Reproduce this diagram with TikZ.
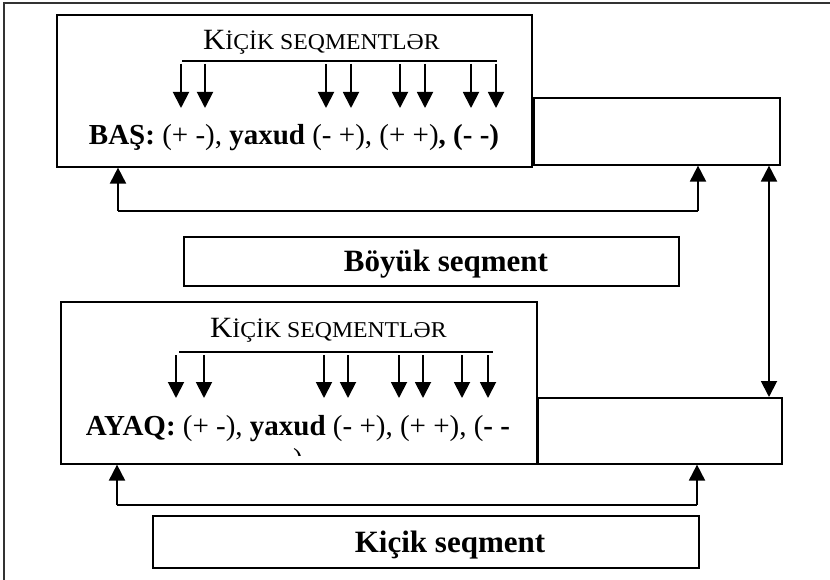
\documentclass[tikz,border=0pt]{standalone}
\usepackage{fontspec}
\setmainfont{Liberation Serif}
\newfontfamily\headingfont{Liberation Serif}[FakeStretch=1.05]
\usetikzlibrary{arrows.meta}

\newcommand\segtitle{{\headingfont\fontsize{29.4}{32}\selectfont K\fontsize{22.6}{25}\selectfont İÇİK SEQMENTLƏR}}

\begin{document}
\begin{tikzpicture}[x=1pt,y=-1pt,
  box/.style={draw, line width=1.6pt, anchor=north west, inner sep=0pt},
  txt/.style={inner sep=0pt, font=\fontsize{29}{32}\selectfont},
  ttl/.style={inner sep=0pt, anchor=base west},
  lbl/.style={inner sep=0pt, anchor=base, font=\bfseries\fontsize{31}{34}\selectfont},
  rule/.style={line width=1.6pt},
  tip/.tip={Triangle[width=16pt,length=16pt]},
  arr/.style={line width=1.9pt, -tip},
  darr/.style={line width=1.9pt, tip-tip},
  frame/.style={line width=1.3pt, draw=black!80}]

\useasboundingbox (0,0) rectangle (830,580);
\clip (0,0) rectangle (830,580);

% outer frame (runs past the right and lower edges)
\draw[frame] (4,600) -- (4,3) -- (840,3);

% ---------- upper group ----------
\node[box, minimum width=475pt, minimum height=152pt] (head) at (56,14) {};
\node[box, minimum width=246pt, minimum height=67pt] (headR) at (533,97) {};

\node[ttl] (headT) at (203,50) {\segtitle};
\coordinate (hl) at (182,61);
\coordinate (hr) at (497,61);
\draw[rule] (hl) -- (hr);
\foreach \x [count=\i] in {181,205,326,351,400,425,471,496}{
  \coordinate (hs\i) at (\x,64);
  \coordinate (he\i) at (\x,108);
  \draw[arr] (hs\i) -- (he\i);
}
\node[txt, anchor=base] (headF) at (294,145)
  {\textbf{BAŞ:} (+ -), \textbf{yaxud} (- +), (+ +)\textbf{, (- -)}};

% feedback loop below the upper group
\coordinate (la) at (118,211);
\coordinate (lb) at (698,211);
\draw[rule] (la) -- (lb);
\draw[arr] (la) -- (la |- head.south);
\draw[arr] (lb) -- (lb |- headR.south);

% ---------- middle label ----------
\node[box, minimum width=495pt, minimum height=49pt] (big) at (183,236) {};
\node[lbl] (bigT) at (446,271) {Böyük seqment};

% ---------- lower group ----------
\node[box, minimum width=476pt, minimum height=162pt] (foot) at (60,301) {};
\node[box, minimum width=244pt, minimum height=66pt] (footR) at (537,397) {};

\node[ttl] (footT) at (210,337) {\segtitle};
\coordinate (fl) at (179,352);
\coordinate (fr) at (493,352);
\draw[rule] (fl) -- (fr);
\foreach \x [count=\i] in {176,204,324,348,399,423,462,488}{
  \coordinate (fs\i) at (\x,355);
  \coordinate (fe\i) at (\x,398);
  \draw[arr] (fs\i) -- (fe\i);
}
\node[txt, anchor=base] (footF) at (298,435)
  {\textbf{AYAQ:} (+ -), \textbf{yaxud} (- +), (+ +), (\textbf{- -}};
% wrapped closing bracket, cut off by the box
\begin{scope}
  \clip (60,301) rectangle (536,455);
  \node[txt, anchor=base] (footW) at (298,468) {)};
\end{scope}

% link between the two right-hand boxes
\coordinate (rx) at (769,0);
\draw[darr] (rx |- headR.south) -- (rx |- footR.north);

% feedback loop below the lower group
\coordinate (ma) at (117,505);
\coordinate (mb) at (697,505);
\draw[rule] (ma) -- (mb);
\draw[arr] (ma) -- (ma |- foot.south);
\draw[arr] (mb) -- (mb |- footR.south);

% ---------- bottom label ----------
\node[box, minimum width=546pt, minimum height=52pt] (small) at (152,515) {};
\node[lbl] (smallT) at (450,552) {Kiçik seqment};

\end{tikzpicture}
\end{document}
